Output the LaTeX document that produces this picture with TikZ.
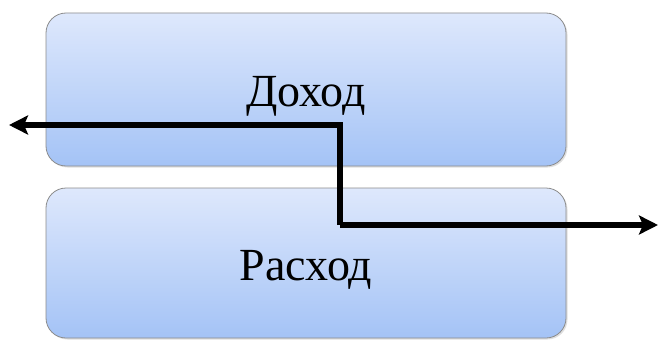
\documentclass[tikz,border=0pt]{standalone}
\usepackage{fontspec}
\setmainfont{Liberation Serif}
\newfontfamily\labelfont{Liberation Serif}
\usetikzlibrary{arrows.meta,shadows}
\definecolor{boxtop}{RGB}{222,232,252}
\definecolor{boxbottom}{RGB}{164,195,246}
\begin{document}
\begin{tikzpicture}[x=1pt,y=1pt,
  block/.style={draw=black!45, line width=0.8pt, rounded corners=20pt,
    top color=boxtop, bottom color=boxbottom,
    minimum width=520pt, inner sep=0pt,
    drop shadow={shadow xshift=1.5pt, shadow yshift=-1.5pt, opacity=0.25}},
  label/.style={font=\labelfont\fontsize{46}{50}\selectfont},
  flow/.style={line width=5.5pt, -{Stealth[length=19pt,width=19pt,inset=4pt]}}]
  \useasboundingbox (0,0) rectangle (659,341);
  \node[block, minimum height=153pt] (inc) at (306,251.5) {};
  \node[block, minimum height=150pt] (exp) at (306,78) {};
  \node[label] (inct) at (306,245) {Доход};
  \node[label] (expt) at (306,71) {Расход};
  \coordinate (bend1) at (340,116);
  \coordinate (bend2) at (340,216);
  \coordinate (outR) at (658,116);
  \coordinate (outL) at (9,216);
  \draw[flow] (bend1) -- (outR);
  \draw[flow, line join=miter] (bend1) -- (bend2) -- (outL);
\end{tikzpicture}
\end{document}
